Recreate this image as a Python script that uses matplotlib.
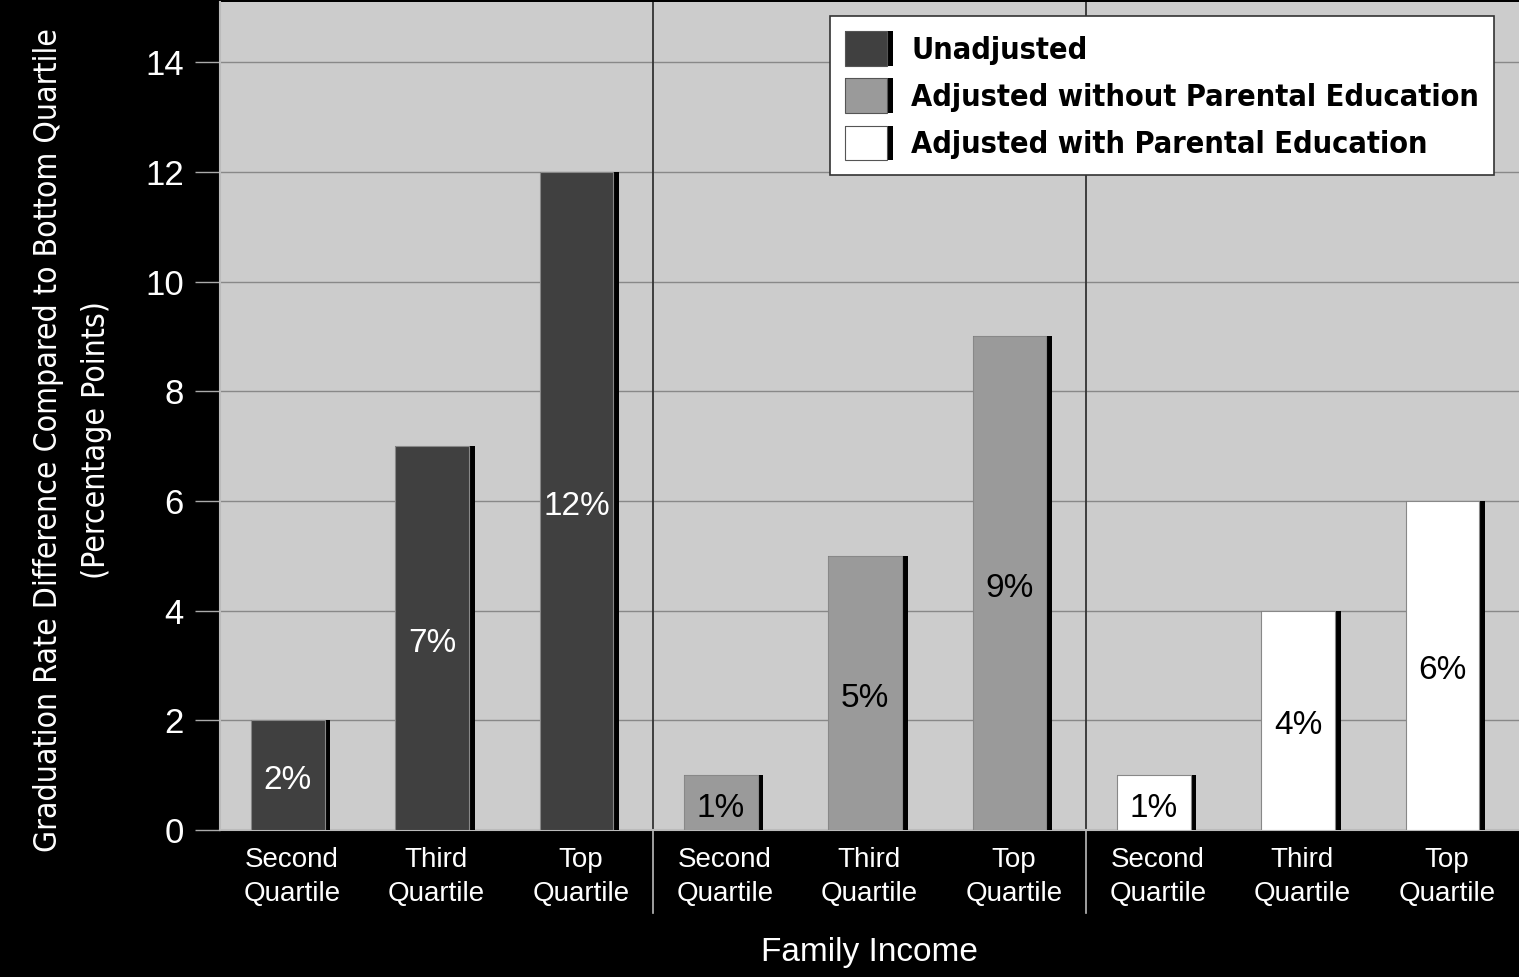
import matplotlib
matplotlib.use("Agg")
import matplotlib.pyplot as plt
from matplotlib import font_manager
from matplotlib.patches import Rectangle
from matplotlib.legend_handler import HandlerBase

# look for a condensed face; fall back to Liberation Sans
cond = [f for f in font_manager.fontManager.ttflist
        if "Narrow" in f.name or "Condensed" in f.name or "condensed" in str(f.stretch)]
if cond:
    narrow = {"family": cond[0].name, "stretch": cond[0].stretch}
else:
    narrow = {"family": "Liberation Sans"}

categories = ["Second\nQuartile", "Third\nQuartile", "Top\nQuartile"] * 3
values = [2, 7, 12, 1, 5, 9, 1, 4, 6]
labels = ["2%", "7%", "12%", "1%", "5%", "9%", "1%", "4%", "6%"]
series = ["Unadjusted", "Adjusted without Parental Education", "Adjusted with Parental Education"]
colors = ["#404040", "#9a9a9a", "#ffffff"]
label_colors = ["white", "black", "black"]


class ShadowHandler(HandlerBase):
    def create_artists(self, legend, orig, xd, yd, w, h, fontsize, trans):
        back = Rectangle((-xd, -yd), w, h, fc="black", ec="none", transform=trans)
        front = Rectangle((-xd, -yd), w * 0.87, h, fc=orig.get_facecolor(),
                          ec="#555555", lw=0.8, transform=trans)
        return [back, front]


fig = plt.figure(figsize=(15.19, 9.77), dpi=100, facecolor="black")
ax = fig.add_axes([0.1448, 0.1505, 0.8552, 0.8475])
ax.set_facecolor("#cccccc")

x = list(range(len(values)))
w = 0.55
for i, v in enumerate(values):
    g = i // 3
    ax.bar(i - 0.01, v, w, color="black", zorder=3)
    ax.bar(i - 0.03, v, w - 0.04, color=colors[g], edgecolor="#888888", linewidth=0.8, zorder=4)
    ax.text(i - 0.03, v / 2 - 0.1, labels[i], ha="center", va="center", fontsize=24,
            color=label_colors[g], family="Liberation Sans", zorder=5)

ax.set_xlim(-0.5, 8.5)
ax.set_ylim(0, 15.1)
ax.set_yticks(range(0, 15, 2))
ax.yaxis.grid(True, color="#888888", linewidth=1, zorder=0)
ax.set_axisbelow(True)
ax.tick_params(axis="y", colors="white", labelsize=25, length=18, width=1, pad=8)
ax.tick_params(axis="y", color="#aaaaaa")
for t in ax.get_yticklabels():
    t.set_family("Liberation Sans")

ax.set_xticks(x)
ax.set_xticklabels(categories, color="white", fontsize=20, family="Liberation Sans", linespacing=1.4)
ax.tick_params(axis="x", length=0, pad=12)

for sep in (2.5, 5.5):
    ax.plot([sep, sep], [0, 15.1], color="#333333", lw=1.3, zorder=2)
    ax.plot([sep, sep], [0, -0.1], transform=ax.get_xaxis_transform(), color="#bbbbbb",
            lw=1.2, clip_on=False)

for s in ("top", "right"):
    ax.spines[s].set_visible(False)
for s in ("left", "bottom"):
    ax.spines[s].set_color("#bbbbbb")
    ax.spines[s].set_linewidth(1.5)

ax.set_xlabel("Family Income", color="white", fontsize=24, family="Liberation Sans", labelpad=22)
ax.set_ylabel("Graduation Rate Difference Compared to Bottom Quartile\n(Percentage Points)",
              color="white", fontsize=22.9 if cond else 21, labelpad=22, linespacing=1.7, **narrow)
ax.yaxis.set_label_coords(-0.083, 0.471)

proxies = [Rectangle((0, 0), 1, 1, fc=c) for c in colors]
leg = ax.legend(proxies, series, handler_map={Rectangle: ShadowHandler()},
                loc="upper right", bbox_to_anchor=(0.981, 0.983), borderaxespad=0,
                fancybox=False, framealpha=1, edgecolor="#333333",
                handlelength=1.55, handleheight=1.35,
                prop=dict(weight="bold", size=22 if cond else 21.5, **narrow),
                borderpad=0.5, labelspacing=0.42, handletextpad=0.6)
leg.get_frame().set_linewidth(1.2)
leg.set_zorder(10)

fig.savefig("out.png", dpi=100, facecolor="black")
